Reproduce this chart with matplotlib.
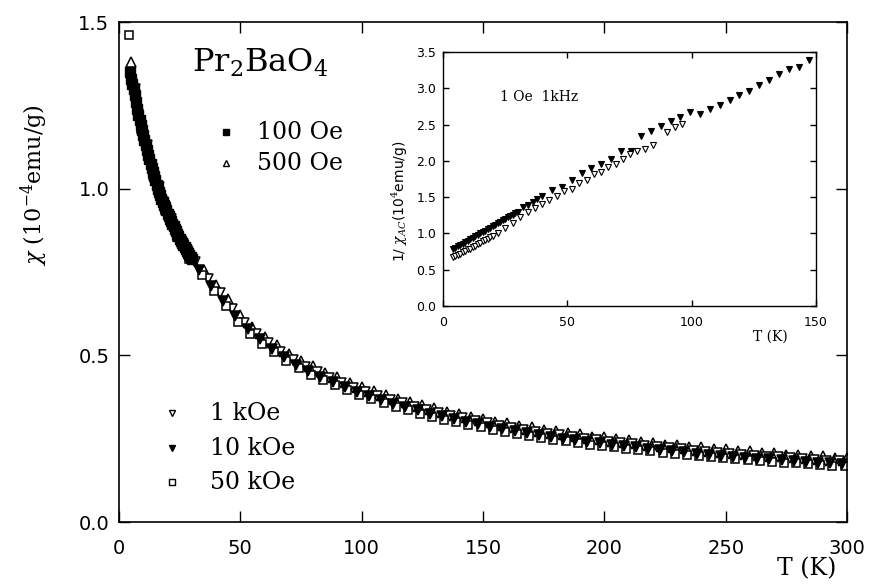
import numpy as np
import matplotlib
matplotlib.use("Agg")
from matplotlib import pyplot as plt

plt.rcParams["mathtext.fontset"] = "dejavuserif"

# main panel: chi (1e-4 emu/g) vs T (K), one list per field
t_100oe = np.arange(4.5, 30.1, 0.5)
chi_100oe = [1.35, 1.33, 1.315, 1.30, 1.28, 1.26, 1.24, 1.22, 1.205, 1.19,
             1.175, 1.16, 1.145, 1.13, 1.115, 1.10, 1.088, 1.075, 1.062, 1.05,
             1.038, 1.025, 1.012, 1.00, 0.99, 0.98, 0.97, 0.96, 0.952, 0.945,
             0.935, 0.925, 0.918, 0.91, 0.902, 0.895, 0.888, 0.88, 0.872, 0.865,
             0.858, 0.85, 0.844, 0.838, 0.832, 0.826, 0.82, 0.814, 0.808, 0.802,
             0.796, 0.79]

t_500oe = np.arange(5, 301, 5)
chi_500oe = [1.38, 1.18, 1.05, 0.945, 0.865, 0.81, 0.755, 0.71, 0.668, 0.622,
             0.585, 0.556, 0.532, 0.505, 0.484, 0.468, 0.447, 0.435, 0.418, 0.406,
             0.392, 0.382, 0.37, 0.361, 0.35, 0.342, 0.331, 0.325, 0.316, 0.31,
             0.301, 0.296, 0.289, 0.284, 0.276, 0.273, 0.266, 0.263, 0.256, 0.254,
             0.248, 0.246, 0.24, 0.238, 0.232, 0.231, 0.225, 0.224, 0.219, 0.218,
             0.213, 0.212, 0.207, 0.207, 0.202, 0.202, 0.197, 0.197, 0.193, 0.193]

t_1koe = np.arange(6.5, 300, 5)
chi_1koe = [1.30, 1.13, 1.005, 0.91, 0.835, 0.78, 0.73, 0.686, 0.64, 0.598,
            0.564, 0.536, 0.511, 0.487, 0.466, 0.449, 0.432, 0.417, 0.403, 0.39,
            0.378, 0.367, 0.356, 0.346, 0.336, 0.328, 0.319, 0.311, 0.303, 0.296,
            0.289, 0.283, 0.277, 0.27, 0.265, 0.26, 0.255, 0.25, 0.245, 0.241,
            0.237, 0.233, 0.229, 0.225, 0.221, 0.218, 0.214, 0.211, 0.208, 0.205,
            0.202, 0.199, 0.196, 0.194, 0.191, 0.189, 0.186, 0.184, 0.182]

t_10koe = np.arange(8, 300, 5)
chi_10koe = [1.225, 1.07, 0.96, 0.875, 0.81, 0.755, 0.707, 0.662, 0.617, 0.578,
             0.548, 0.52, 0.495, 0.472, 0.452, 0.435, 0.42, 0.404, 0.391, 0.378,
             0.366, 0.355, 0.345, 0.335, 0.325, 0.317, 0.308, 0.3, 0.293, 0.286,
             0.279, 0.273, 0.267, 0.261, 0.255, 0.25, 0.245, 0.24, 0.236, 0.232,
             0.228, 0.224, 0.22, 0.216, 0.212, 0.209, 0.205, 0.202, 0.199, 0.196,
             0.193, 0.19, 0.188, 0.185, 0.183, 0.18, 0.178, 0.176, 0.174]

t_50koe = np.arange(4, 300, 5)
chi_50koe = [1.46, 1.18, 1.04, 0.935, 0.855, 0.79, 0.74, 0.692, 0.647, 0.601,
             0.565, 0.535, 0.509, 0.484, 0.462, 0.442, 0.425, 0.41, 0.395, 0.381,
             0.368, 0.356, 0.345, 0.335, 0.325, 0.316, 0.307, 0.299, 0.291, 0.284,
             0.277, 0.27, 0.264, 0.258, 0.252, 0.247, 0.242, 0.237, 0.232, 0.228,
             0.224, 0.22, 0.216, 0.212, 0.208, 0.205, 0.201, 0.198, 0.195, 0.192,
             0.189, 0.186, 0.183, 0.181, 0.178, 0.176, 0.173, 0.171, 0.169, 0.167]

# inset: 1/chi_AC (1e4 g/emu) vs T (K), 1 Oe 1 kHz
t_ac_filled = list(range(4, 31)) + [32, 34, 36, 38, 40, 44, 48, 52, 56, 59.5,
                                    63.5, 67.5, 71.5, 75.5, 79.5, 83.5, 87.5,
                                    91.5, 95.5, 99.5, 103.5, 107.5, 111.5,
                                    115.5, 119, 123, 127, 131, 135, 139, 143, 147]
inv_ac_filled = [0.78, 0.80, 0.82, 0.84, 0.86, 0.88, 0.90, 0.92, 0.94, 0.96,
                 0.98, 1.00, 1.02, 1.04, 1.06, 1.08, 1.10, 1.12, 1.14, 1.16,
                 1.18, 1.20, 1.22, 1.24, 1.26, 1.28, 1.30,
                 1.36, 1.39, 1.44, 1.47, 1.52, 1.60, 1.64, 1.74, 1.83, 1.90,
                 1.95, 2.03, 2.13, 2.13, 2.34, 2.41, 2.48, 2.55, 2.60, 2.67,
                 2.64, 2.71, 2.77, 2.84, 2.91, 2.96, 3.05, 3.11, 3.20, 3.26,
                 3.30, 3.39]

t_ac_open = list(range(4, 21)) + [22, 25, 28, 31, 34, 37, 40, 42.7, 45.7, 48.7,
                                  51.7, 54.6, 57.8, 60.7, 63.5, 66.5, 69.4,
                                  72.5, 75.2, 78.1, 81.2, 84.3, 90.2, 93.3, 96.2]
inv_ac_open = [0.67, 0.69, 0.70, 0.72, 0.74, 0.76, 0.78, 0.79, 0.81, 0.83,
               0.85, 0.87, 0.89, 0.91, 0.93, 0.95, 0.97,
               1.00, 1.08, 1.14, 1.22, 1.29, 1.35, 1.40, 1.46, 1.52, 1.58,
               1.61, 1.69, 1.74, 1.82, 1.84, 1.91, 1.96, 2.03, 2.09, 2.14,
               2.17, 2.22, 2.40, 2.46, 2.51]


def style_axes(ax, size, length, pad):
    ax.tick_params(direction="in", top=True, right=True, length=length,
                   width=1.0, labelsize=size, pad=pad)
    for sp in ax.spines.values():
        sp.set_linewidth(1.2)


def main():
    fig = plt.figure(figsize=(8.7, 5.87), dpi=100)
    ax = fig.add_axes([0.1368, 0.1107, 0.8368, 0.8518])

    ms = 7
    ax.plot(t_500oe, chi_500oe, "^", ms=ms + 0.5, mfc="white", mec="black", mew=1.1)
    ax.plot(t_1koe, chi_1koe, "v", ms=ms, mfc="white", mec="black", mew=1.1)
    ax.plot(t_50koe, chi_50koe, "s", ms=ms - 1, mfc="white", mec="black", mew=1.1)
    ax.plot(t_10koe, chi_10koe, "v", ms=ms, mfc="black", mec="black", mew=1.1)
    ax.plot(t_100oe, chi_100oe, "s", ms=ms - 0.5, mfc="black", mec="black", mew=1.0)

    ax.set_xlim(0, 300)
    ax.set_ylim(0, 1.5)
    ax.set_xticks([0, 50, 100, 150, 200, 250, 300])
    ax.set_yticks([0.0, 0.5, 1.0, 1.5])
    ax.set_yticklabels(["0.0", "0.5", "1.0", "1.5"])
    style_axes(ax, 14, 8, 7)
    ax.tick_params(axis="x", pad=12)

    ax.set_xlabel("T (K)", family="DejaVu Serif", fontsize=17)
    ax.xaxis.set_label_coords(0.944, -0.07)
    ax.set_ylabel(r"$\chi$ (10$^{-4}$emu/g)", family="DejaVu Serif", fontsize=16)
    ax.yaxis.set_label_coords(-0.095, 0.674)

    ax.text(0.1003, 0.9, r"Pr$_2$BaO$_4$", transform=ax.transAxes,
            family="DejaVu Serif", fontsize=23, va="baseline")

    leg_items = [
        (0.147, 0.78, "s", "black", "100 Oe", 0.1896),
        (0.147, 0.718, "^", "white", "500 Oe", 0.1896),
        (0.0728, 0.218, "v", "white", "1 kOe", 0.125),
        (0.0728, 0.148, "v", "black", "10 kOe", 0.125),
        (0.0728, 0.08, "s", "white", "50 kOe", 0.125),
    ]
    for mx, my, mk, fc, label, tx in leg_items:
        ax.plot([mx], [my], mk, ms=5, mfc=fc, mec="black", mew=1.0,
                transform=ax.transAxes)
        ax.text(tx, my, label, transform=ax.transAxes, family="DejaVu Serif",
                fontsize=17, va="center")

    # inset
    ins = fig.add_axes([0.5092, 0.4787, 0.4287, 0.4327])
    ins.plot(t_ac_filled, inv_ac_filled, "v", ms=3.8, mfc="black", mec="black", mew=0.8)
    ins.plot(t_ac_open, inv_ac_open, "v", ms=3.8, mfc="white", mec="black", mew=0.8)
    ins.set_xlim(0, 150)
    ins.set_ylim(0, 3.5)
    ins.set_xticks([0, 50, 100, 150])
    ins.set_yticks(np.arange(0, 3.6, 0.5))
    ins.set_yticklabels(["0.0", "0.5", "1.0", "1.5", "2.0", "2.5", "3.0", "3.5"])
    style_axes(ins, 9, 4, 5)
    ins.tick_params(axis="x", pad=7)
    for sp in ins.spines.values():
        sp.set_linewidth(1.0)
    ins.set_xlabel("T (K)", family="DejaVu Serif", fontsize=10)
    ins.xaxis.set_label_coords(0.879, -0.095)
    ins.set_ylabel(r"1/ $\chi_{AC}$(10$^4$emu/g)", fontsize=10)
    ins.yaxis.set_label_coords(-0.088, 0.413)
    ins.text(0.153, 0.824, "1 Oe  1kHz", transform=ins.transAxes,
             family="DejaVu Serif", fontsize=10, va="center")

    fig.savefig("out.png", dpi=100)


if __name__ == "__main__":
    main()
